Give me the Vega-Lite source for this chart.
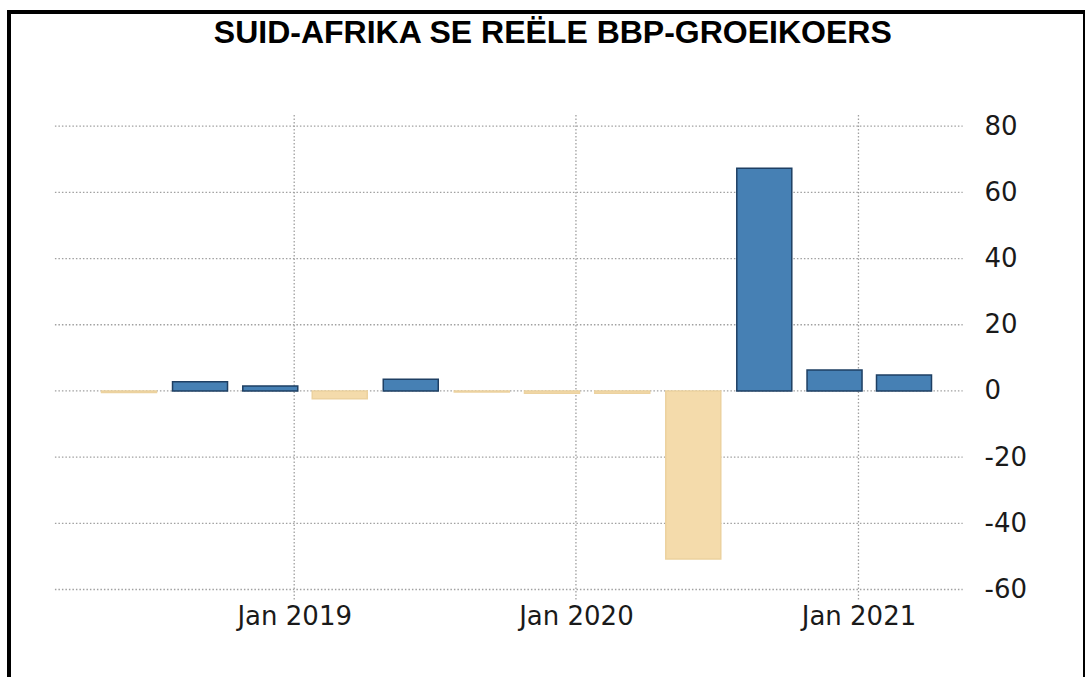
{
  "$schema": "https://vega.github.io/schema/vega-lite/v6.json",
  "autosize": "none",
  "padding": {"left": 9, "top": 12, "right": 0, "bottom": 0},
  "width": 1076,
  "height": 690,
  "background": "white",
  "config": {"view": {"stroke": "black", "strokeWidth": 4}},
  "datasets": {
    "gdp": [
      {"date": "2018-06-01", "value": -0.5},
      {"date": "2018-09-01", "value": 2.8},
      {"date": "2018-12-01", "value": 1.5},
      {"date": "2019-03-01", "value": -2.4},
      {"date": "2019-06-01", "value": 3.5},
      {"date": "2019-09-01", "value": -0.3},
      {"date": "2019-12-01", "value": -0.7},
      {"date": "2020-03-01", "value": -0.7},
      {"date": "2020-06-01", "value": -50.8},
      {"date": "2020-09-01", "value": 67.3},
      {"date": "2020-12-01", "value": 6.3},
      {"date": "2021-03-01", "value": 4.8}
    ],
    "ygrid": [
      {"v": -60}, {"v": -40}, {"v": -20}, {"v": 0}, {"v": 20}, {"v": 40}, {"v": 60}, {"v": 80}
    ],
    "xgrid": [
      {"date": "2019-01-01"}, {"date": "2020-01-01"}, {"date": "2021-01-01"}
    ],
    "heading": [
      {"label": "SUID-AFRIKA SE REËLE BBP-GROEIKOERS"}
    ]
  },
  "layer": [
    {
      "data": {"name": "ygrid"},
      "mark": {"type": "rule", "color": "#a0a0a0", "strokeWidth": 1.3, "strokeDash": [1.5, 2]},
      "encoding": {
        "y": {"field": "v", "type": "quantitative"},
        "x": {"datum": {"year": 2018, "month": 2, "date": 25, "utc": true}, "type": "temporal"},
        "x2": {"datum": {"year": 2021, "month": 5, "date": 16, "utc": true}}
      }
    },
    {
      "data": {"name": "xgrid"},
      "mark": {"type": "rule", "color": "#a0a0a0", "strokeWidth": 1.3, "strokeDash": [1.5, 2]},
      "encoding": {
        "x": {"field": "date", "type": "temporal"},
        "y": {"datum": 83.4, "type": "quantitative"},
        "y2": {"datum": -63.1}
      }
    },
    {
      "data": {"name": "gdp"},
      "mark": {"type": "bar", "width": 55, "strokeWidth": 1.5},
      "encoding": {
        "x": {
          "field": "date",
          "type": "temporal",
          "scale": {
            "type": "utc",
            "domain": [
              {"year": 2018, "month": 1, "date": 3, "utc": true},
              {"year": 2021, "month": 10, "date": 15, "utc": true}
            ]
          },
          "axis": {
            "orient": "bottom",
            "title": null,
            "values": [
              {"year": 2019, "month": 1, "date": 1, "utc": true},
              {"year": 2020, "month": 1, "date": 1, "utc": true},
              {"year": 2021, "month": 1, "date": 1, "utc": true}
            ],
            "format": "%b %Y",
            "grid": false,
            "domain": false,
            "ticks": false,
            "offset": -99,
            "labelPadding": 0,
            "labelFont": "DejaVu Sans",
            "labelFontSize": 26,
            "labelColor": "#1a1a1a"
          }
        },
        "y": {
          "field": "value",
          "type": "quantitative",
          "scale": {"domain": [-94.0, 114.5], "nice": false, "zero": false},
          "axis": {
            "orient": "right",
            "title": null,
            "values": [-60, -40, -20, 0, 20, 40, 60, 80],
            "labelExpr": "'' + datum.value",
            "grid": false,
            "domain": false,
            "ticks": false,
            "offset": -101,
            "labelPadding": 0,
            "labelFont": "DejaVu Sans",
            "labelFontSize": 26,
            "labelColor": "#1a1a1a"
          }
        },
        "color": {
          "condition": {"test": "datum.value < 0", "value": "#F4DBAB"},
          "value": "#4680B4"
        },
        "stroke": {
          "condition": {"test": "datum.value < 0", "value": "#ECD29F"},
          "value": "#1E3F63"
        }
      }
    },
    {
      "data": {"name": "heading"},
      "mark": {
        "type": "text",
        "font": "Liberation Sans",
        "fontSize": 32,
        "fontWeight": "bold",
        "color": "black",
        "align": "center",
        "baseline": "alphabetic"
      },
      "encoding": {
        "text": {"field": "label"},
        "x": {"datum": {"year": 2019, "month": 12, "date": 2, "utc": true}, "type": "temporal"},
        "y": {"datum": 105.1, "type": "quantitative"}
      }
    }
  ]
}
